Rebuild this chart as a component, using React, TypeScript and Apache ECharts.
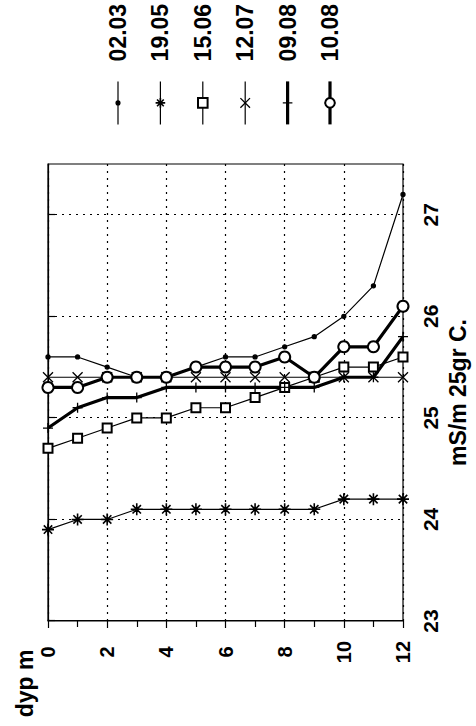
import React, { useEffect, useRef } from "react";
import * as echarts from "echarts";

// depth (m) for every measurement
const DEPTHS = [0, 1, 2, 3, 4, 5, 6, 7, 8, 9, 10, 11, 12];

// conductivity (mS/m at 25 C) per survey date
const S_0203 = [25.6, 25.6, 25.5, 25.4, 25.4, 25.5, 25.6, 25.6, 25.7, 25.8, 26.0, 26.3, 27.2];
const S_1905 = [23.9, 24.0, 24.0, 24.1, 24.1, 24.1, 24.1, 24.1, 24.1, 24.1, 24.2, 24.2, 24.2];
const S_1506 = [24.7, 24.8, 24.9, 25.0, 25.0, 25.1, 25.1, 25.2, 25.3, 25.4, 25.5, 25.5, 25.6];
const S_1207 = [25.4, 25.4, 25.4, 25.4, 25.4, 25.4, 25.4, 25.4, 25.4, 25.4, 25.4, 25.4, 25.4];
const S_0908 = [24.9, 25.1, 25.2, 25.2, 25.3, 25.3, 25.3, 25.3, 25.3, 25.3, 25.4, 25.4, 25.8];
const S_1008 = [25.3, 25.3, 25.4, 25.4, 25.4, 25.5, 25.5, 25.5, 25.6, 25.4, 25.7, 25.7, 26.1];

const SERIES_NAMES = ["02.03", "19.05", "15.06", "12.07", "09.08", "10.08"];
const SERIES_VALUES = [S_0203, S_1905, S_1506, S_1207, S_0908, S_1008];

const COND_TICKS = [23, 24, 25, 26, 27];
const X_NAME = "mS/m 25gr C.";
const Y_NAME = "dyp m";

const FONT = "'Liberation Sans', Arial, Helvetica, sans-serif";

const SYM_DOT = "path://M0 0M10 10M3 5A2 2 0 1 1 7 5A2 2 0 1 1 3 5Z";
const SYM_STAR = "path://M5 0L5 10M0 5L10 5M1.5 1.5L8.5 8.5M8.5 1.5L1.5 8.5";
const SYM_X = "path://M0 0L10 10M10 0L0 10";
const SYM_PLUS = "path://M5 0L5 10M0 5L10 5";

const STYLES = [
  { symbol: SYM_DOT, size: 10, width: 1.2, border: 1.3 },
  { symbol: SYM_STAR, size: 12, width: 1.2, border: 1.6 },
  { symbol: "emptyRect", size: 9, width: 1.2, border: 1.3 },
  { symbol: SYM_X, size: 10, width: 1.2, border: 1.3 },
  { symbol: SYM_PLUS, size: 10, width: 3.2, border: 1.3 },
  { symbol: "emptyCircle", size: 11, width: 3.2, border: 1.3 },
];

export default function App() {
  const ref = useRef<HTMLDivElement>(null);

  useEffect(() => {
    if (!ref.current) return;
    const chart = echarts.init(ref.current, null, {
      renderer: "svg",
      width: 726,
      height: 476,
    });

    const series = SERIES_NAMES.map((name, i) => ({
      name,
      type: "line",
      data: DEPTHS.map((d, j) => [SERIES_VALUES[i][j], d]),
      symbol: STYLES[i].symbol,
      symbolSize: STYLES[i].size,
      showAllSymbol: true,
      lineStyle: { color: "#000", width: STYLES[i].width },
      itemStyle: { color: "#000", borderColor: "#000", borderWidth: STYLES[i].border },
      emphasis: { disabled: true },
    }));

    chart.setOption({
      animation: false,
      backgroundColor: "#fff",
      textStyle: { fontFamily: FONT, color: "#000" },
      grid: {
        left: 105,
        right: 164,
        top: 48,
        bottom: 73,
        show: true,
        borderColor: "#000",
        borderWidth: 1.2,
        backgroundColor: "transparent",
      },
      legend: {
        orient: "vertical",
        left: 600,
        top: 106,
        padding: 0,
        itemWidth: 43,
        itemHeight: 12,
        itemGap: 18.4,
        selectedMode: false,
        data: SERIES_NAMES.map((name, i) => ({
          name,
          lineStyle: { color: "#000", width: STYLES[i].width },
          itemStyle: { color: "#000", borderColor: "#000", borderWidth: STYLES[i].border },
        })),
        textStyle: {
          fontFamily: FONT,
          fontWeight: "bold",
          fontSize: 23,
          lineHeight: 24,
          color: "#000",
          padding: [0, 0, 0, 15],
        },
      },
      xAxis: {
        type: "value",
        position: "bottom",
        min: 23,
        max: 27.5,
        interval: 1,
        name: X_NAME,
        nameLocation: "middle",
        nameGap: 55,
        nameTextStyle: {
          fontFamily: FONT,
          fontWeight: "bold",
          fontSize: 23,
          color: "#000",
          verticalAlign: "middle",
        },
        axisLine: { show: true, lineStyle: { color: "#000", width: 1.2 } },
        axisTick: {
          show: true,
          inside: false,
          length: 7,
          customValues: COND_TICKS,
          lineStyle: { color: "#000", width: 1.2 },
        },
        axisLabel: {
          customValues: COND_TICKS,
          formatter: (v: number) => (v % 1 === 0 ? String(v) : ""),
          fontFamily: FONT,
          fontWeight: "bold",
          fontSize: 21,
          color: "#000",
          margin: 27,
          verticalAlign: "middle",
          align: "center",
        },
        splitLine: {
          show: true,
          lineStyle: { color: "#000", width: 1.2, type: [2, 5] },
        },
      },
      yAxis: {
        type: "value",
        position: "left",
        inverse: true,
        min: 0,
        max: 12,
        interval: 2,
        axisLine: { show: true, lineStyle: { color: "#000", width: 1.2 } },
        axisTick: {
          show: true,
          inside: false,
          length: 7,
          lineStyle: { color: "#000", width: 1.2 },
        },
        minorTick: {
          show: true,
          splitNumber: 2,
          length: 6,
          lineStyle: { color: "#000", width: 1.2 },
        },
        axisLabel: {
          fontFamily: FONT,
          fontWeight: "bold",
          fontSize: 20,
          color: "#000",
          margin: 31,
          align: "center",
          verticalAlign: "middle",
        },
        splitLine: {
          show: true,
          lineStyle: { color: "#000", width: 1.2, type: [2, 5] },
        },
      },
      graphic: [
        {
          type: "text",
          x: 42.5,
          y: 25,
          style: {
            text: Y_NAME,
            fill: "#000",
            font: `bold 23px ${FONT}`,
            align: "center",
            verticalAlign: "middle",
            textAlign: "center",
            textVerticalAlign: "middle",
          },
        },
      ],
      series,
    });

    return () => chart.dispose();
  }, []);

  return (
    <div
      style={{
        position: "fixed",
        left: 0,
        top: 0,
        width: 476,
        height: 726,
        overflow: "hidden",
        background: "#fff",
      }}
    >
      <div
        ref={ref}
        style={{
          position: "absolute",
          left: 0,
          top: 0,
          width: 726,
          height: 476,
          transformOrigin: "0 0",
          transform: "translateY(726px) rotate(-90deg)",
        }}
      />
    </div>
  );
}
